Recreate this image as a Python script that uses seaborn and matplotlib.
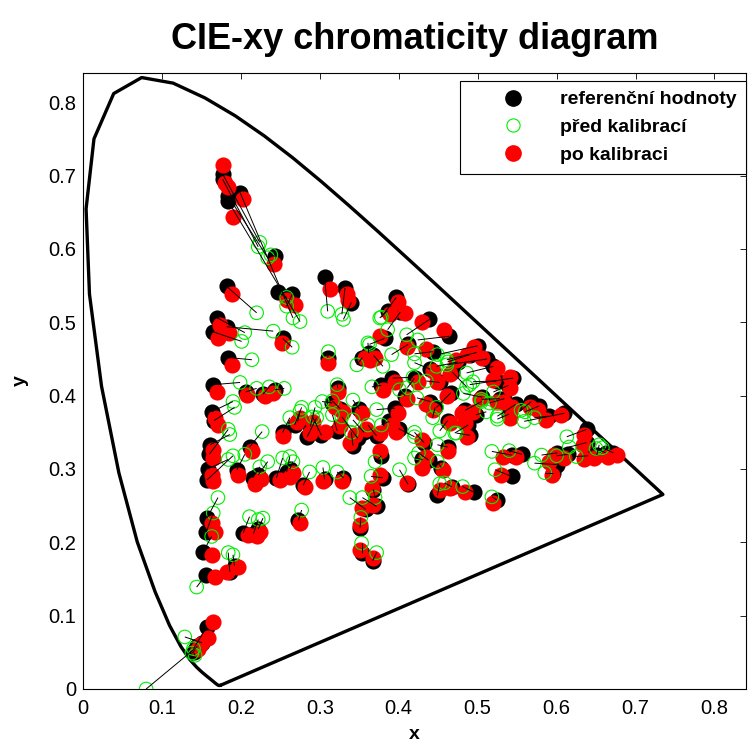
import numpy as np
import pandas as pd
import seaborn as sns
import matplotlib
matplotlib.use("Agg")
import matplotlib.pyplot as plt
from matplotlib.collections import LineCollection
from matplotlib.lines import Line2D

# CIE 1931 spectral locus (380-700 nm, 5 nm)
locus_x = [0.1741, 0.1740, 0.1738, 0.1736, 0.1733, 0.1730, 0.1726, 0.1721, 0.1714, 0.1703,
           0.1689, 0.1669, 0.1644, 0.1611, 0.1566, 0.1510, 0.1440, 0.1355, 0.1241, 0.1096,
           0.0913, 0.0687, 0.0454, 0.0235, 0.0082, 0.0039, 0.0139, 0.0389, 0.0743, 0.1142,
           0.1547, 0.1929, 0.2296, 0.2658, 0.3016, 0.3373, 0.3731, 0.4087, 0.4441, 0.4788,
           0.5125, 0.5448, 0.5752, 0.6029, 0.6270, 0.6482, 0.6658, 0.6801, 0.6915, 0.7006,
           0.7079, 0.7140, 0.7190, 0.7230, 0.7260, 0.7283, 0.7300, 0.7311, 0.7320, 0.7327,
           0.7334, 0.7340, 0.7344, 0.7346, 0.7347]
locus_y = [0.0050, 0.0050, 0.0049, 0.0049, 0.0048, 0.0048, 0.0048, 0.0048, 0.0051, 0.0058,
           0.0069, 0.0086, 0.0109, 0.0138, 0.0177, 0.0227, 0.0297, 0.0399, 0.0578, 0.0868,
           0.1327, 0.2007, 0.2950, 0.4127, 0.5384, 0.6548, 0.7502, 0.8120, 0.8338, 0.8262,
           0.8059, 0.7816, 0.7543, 0.7243, 0.6923, 0.6589, 0.6245, 0.5896, 0.5547, 0.5202,
           0.4866, 0.4544, 0.4242, 0.3965, 0.3725, 0.3514, 0.3340, 0.3197, 0.3083, 0.2993,
           0.2920, 0.2859, 0.2809, 0.2770, 0.2740, 0.2717, 0.2700, 0.2689, 0.2680, 0.2673,
           0.2666, 0.2660, 0.2656, 0.2654, 0.2653]

# reference values (black)
ref_x = [0.177, 0.177, 0.184, 0.199, 0.184, 0.243, 0.247, 0.265, 0.182, 0.170,
         0.182, 0.165, 0.253, 0.184, 0.165, 0.306, 0.332, 0.340, 0.397, 0.402,
         0.439, 0.464, 0.382, 0.412, 0.443, 0.310, 0.354, 0.499, 0.475, 0.520,
         0.545, 0.323, 0.163, 0.166, 0.161, 0.160, 0.158, 0.157, 0.211, 0.195,
         0.215, 0.222, 0.245, 0.258, 0.262, 0.279, 0.253, 0.284, 0.268, 0.157,
         0.156, 0.152, 0.156, 0.186, 0.192, 0.203, 0.216, 0.222, 0.273, 0.157,
         0.151, 0.142, 0.145, 0.140, 0.380, 0.368, 0.358, 0.372, 0.351, 0.353,
         0.367, 0.412, 0.430, 0.454, 0.449, 0.467, 0.496, 0.524, 0.543, 0.543,
         0.462, 0.490, 0.306, 0.610, 0.590, 0.568, 0.578, 0.638, 0.638, 0.640,
         0.651, 0.672, 0.662, 0.614, 0.601, 0.600, 0.596, 0.539, 0.534, 0.540,
         0.556, 0.206, 0.228, 0.243, 0.386, 0.362, 0.368, 0.500, 0.490, 0.512,
         0.524, 0.440, 0.468, 0.452, 0.420, 0.392, 0.378, 0.408, 0.440, 0.466,
         0.446, 0.484, 0.498, 0.488, 0.462, 0.528, 0.548, 0.316, 0.326, 0.350,
         0.395, 0.388, 0.400, 0.372, 0.356, 0.348, 0.322, 0.342, 0.302, 0.288,
         0.272, 0.432, 0.438, 0.378, 0.506, 0.330]
ref_y = [0.702, 0.695, 0.672, 0.677, 0.665, 0.590, 0.541, 0.538, 0.549, 0.506,
         0.494, 0.487, 0.478, 0.452, 0.415, 0.562, 0.547, 0.527, 0.534, 0.514,
         0.504, 0.481, 0.478, 0.470, 0.460, 0.452, 0.452, 0.459, 0.446, 0.440,
         0.424, 0.410, 0.378, 0.366, 0.333, 0.320, 0.300, 0.285, 0.330, 0.299,
         0.288, 0.292, 0.288, 0.296, 0.300, 0.278, 0.350, 0.344, 0.360, 0.233,
         0.214, 0.187, 0.156, 0.160, 0.168, 0.213, 0.212, 0.218, 0.230, 0.085,
         0.063, 0.053, 0.058, 0.050, 0.288, 0.272, 0.245, 0.249, 0.220, 0.186,
         0.175, 0.279, 0.313, 0.302, 0.264, 0.276, 0.268, 0.258, 0.319, 0.290,
         0.330, 0.346, 0.286, 0.376, 0.372, 0.392, 0.386, 0.354, 0.336, 0.318,
         0.319, 0.322, 0.322, 0.320, 0.322, 0.306, 0.295, 0.414, 0.396, 0.375,
         0.320, 0.405, 0.402, 0.408, 0.516, 0.458, 0.455, 0.468, 0.456, 0.450,
         0.420, 0.436, 0.432, 0.418, 0.424, 0.424, 0.414, 0.400, 0.392, 0.404,
         0.384, 0.380, 0.374, 0.360, 0.366, 0.396, 0.388, 0.390, 0.382, 0.382,
         0.383, 0.365, 0.355, 0.345, 0.350, 0.342, 0.352, 0.332, 0.346, 0.358,
         0.365, 0.336, 0.312, 0.318, 0.398, 0.288]

# before calibration (green open circles)
before_x = [0.224, 0.222, 0.234, 0.266, 0.275, 0.238, 0.258, 0.258, 0.220, 0.205,
            0.241, 0.201, 0.265, 0.214, 0.199, 0.310, 0.328, 0.330, 0.378, 0.386,
            0.410, 0.424, 0.363, 0.391, 0.420, 0.311, 0.347, 0.461, 0.448, 0.486,
            0.490, 0.322, 0.190, 0.192, 0.186, 0.184, 0.184, 0.190, 0.227, 0.205,
            0.224, 0.234, 0.253, 0.262, 0.266, 0.287, 0.262, 0.296, 0.277, 0.171,
            0.165, 0.163, 0.144, 0.184, 0.190, 0.211, 0.222, 0.228, 0.277, 0.140,
            0.129, 0.138, 0.080, 0.142, 0.365, 0.370, 0.338, 0.354, 0.352, 0.353,
            0.372, 0.401, 0.420, 0.449, 0.452, 0.458, 0.481, 0.518, 0.518, 0.522,
            0.449, 0.473, 0.304, 0.559, 0.572, 0.555, 0.560, 0.613, 0.616, 0.625,
            0.654, 0.658, 0.650, 0.600, 0.581, 0.572, 0.585, 0.520, 0.515, 0.525,
            0.540, 0.220, 0.236, 0.255, 0.376, 0.361, 0.380, 0.449, 0.462, 0.461,
            0.494, 0.420, 0.486, 0.435, 0.411, 0.418, 0.366, 0.401, 0.423, 0.448,
            0.443, 0.505, 0.511, 0.471, 0.452, 0.505, 0.525, 0.303, 0.316, 0.342,
            0.372, 0.378, 0.420, 0.361, 0.342, 0.328, 0.316, 0.340, 0.291, 0.294,
            0.275, 0.420, 0.425, 0.370, 0.482, 0.322]
before_y = [0.609, 0.603, 0.588, 0.506, 0.501, 0.592, 0.534, 0.522, 0.513, 0.486,
            0.488, 0.474, 0.466, 0.449, 0.418, 0.515, 0.511, 0.504, 0.507, 0.490,
            0.483, 0.476, 0.470, 0.456, 0.457, 0.460, 0.442, 0.449, 0.440, 0.431,
            0.415, 0.415, 0.392, 0.384, 0.347, 0.354, 0.313, 0.318, 0.351, 0.320,
            0.303, 0.310, 0.315, 0.317, 0.310, 0.296, 0.370, 0.370, 0.384, 0.261,
            0.240, 0.208, 0.139, 0.186, 0.183, 0.235, 0.231, 0.233, 0.244, 0.055,
            0.071, 0.049, 0.000, 0.046, 0.290, 0.261, 0.261, 0.261, 0.234, 0.199,
            0.186, 0.299, 0.315, 0.310, 0.280, 0.281, 0.276, 0.262, 0.324, 0.299,
            0.333, 0.349, 0.302, 0.365, 0.370, 0.380, 0.378, 0.344, 0.330, 0.317,
            0.333, 0.329, 0.328, 0.318, 0.319, 0.308, 0.295, 0.405, 0.390, 0.368,
            0.325, 0.410, 0.412, 0.410, 0.506, 0.472, 0.440, 0.456, 0.446, 0.442,
            0.419, 0.445, 0.412, 0.420, 0.411, 0.425, 0.412, 0.408, 0.397, 0.384,
            0.370, 0.392, 0.378, 0.349, 0.352, 0.395, 0.372, 0.392, 0.393, 0.394,
            0.381, 0.360, 0.344, 0.360, 0.367, 0.371, 0.374, 0.350, 0.371, 0.384,
            0.379, 0.350, 0.322, 0.310, 0.403, 0.296]

# after calibration (red)
after_x = [0.177, 0.180, 0.184, 0.203, 0.190, 0.242, 0.259, 0.268, 0.189, 0.173,
           0.185, 0.171, 0.252, 0.189, 0.170, 0.313, 0.334, 0.336, 0.399, 0.408,
           0.430, 0.458, 0.376, 0.410, 0.435, 0.310, 0.363, 0.494, 0.473, 0.524,
           0.541, 0.323, 0.167, 0.171, 0.165, 0.165, 0.163, 0.165, 0.214, 0.196,
           0.218, 0.226, 0.249, 0.262, 0.266, 0.281, 0.253, 0.287, 0.271, 0.163,
           0.167, 0.163, 0.167, 0.182, 0.196, 0.209, 0.220, 0.224, 0.275, 0.165,
           0.158, 0.148, 0.150, 0.146, 0.376, 0.366, 0.354, 0.368, 0.351, 0.351,
           0.367, 0.410, 0.429, 0.456, 0.452, 0.465, 0.484, 0.519, 0.532, 0.530,
           0.462, 0.487, 0.304, 0.606, 0.587, 0.566, 0.576, 0.635, 0.633, 0.635,
           0.648, 0.676, 0.665, 0.610, 0.597, 0.591, 0.594, 0.541, 0.534, 0.541,
           0.549, 0.208, 0.230, 0.241, 0.389, 0.357, 0.370, 0.496, 0.486, 0.506,
           0.519, 0.443, 0.465, 0.448, 0.424, 0.395, 0.380, 0.411, 0.435, 0.461,
           0.443, 0.480, 0.494, 0.484, 0.465, 0.524, 0.544, 0.319, 0.329, 0.353,
           0.399, 0.391, 0.397, 0.376, 0.359, 0.344, 0.325, 0.338, 0.306, 0.291,
           0.275, 0.429, 0.435, 0.376, 0.503, 0.328]
after_y = [0.715, 0.690, 0.685, 0.668, 0.644, 0.579, 0.531, 0.524, 0.538, 0.497,
           0.486, 0.479, 0.472, 0.442, 0.405, 0.545, 0.538, 0.530, 0.528, 0.513,
           0.501, 0.490, 0.481, 0.466, 0.463, 0.445, 0.449, 0.459, 0.449, 0.438,
           0.426, 0.405, 0.370, 0.360, 0.326, 0.315, 0.292, 0.283, 0.324, 0.292,
           0.279, 0.286, 0.285, 0.289, 0.294, 0.276, 0.345, 0.349, 0.364, 0.227,
           0.214, 0.183, 0.153, 0.160, 0.167, 0.210, 0.208, 0.214, 0.227, 0.091,
           0.070, 0.060, 0.062, 0.055, 0.292, 0.274, 0.247, 0.251, 0.224, 0.190,
           0.179, 0.281, 0.302, 0.299, 0.272, 0.274, 0.268, 0.254, 0.317, 0.292,
           0.324, 0.343, 0.283, 0.374, 0.367, 0.385, 0.381, 0.347, 0.333, 0.313,
           0.315, 0.319, 0.317, 0.315, 0.319, 0.310, 0.292, 0.411, 0.392, 0.370,
           0.317, 0.401, 0.399, 0.404, 0.512, 0.452, 0.452, 0.466, 0.456, 0.452,
           0.422, 0.433, 0.429, 0.419, 0.418, 0.419, 0.408, 0.395, 0.388, 0.399,
           0.381, 0.377, 0.378, 0.363, 0.363, 0.392, 0.385, 0.385, 0.378, 0.377,
           0.377, 0.360, 0.351, 0.349, 0.354, 0.347, 0.358, 0.336, 0.351, 0.364,
           0.370, 0.340, 0.317, 0.324, 0.395, 0.284]

tick_vals = [0, 0.1, 0.2, 0.3, 0.4, 0.5, 0.6, 0.7, 0.8]
tick_labels = ["0", "0.1", "0.2", "0.3", "0.4", "0.5", "0.6", "0.7", "0.8"]
legend_labels = ["referenční hodnoty", "před kalibrací", "po kalibraci"]

sns.set_style("white")
plt.rcParams['font.family'] = ['Liberation Sans', 'DejaVu Sans']
plt.rcParams['text.color'] = 'black'
plt.rcParams['axes.labelcolor'] = 'black'
plt.rcParams['xtick.color'] = 'black'
plt.rcParams['ytick.color'] = 'black'

fig = plt.figure(figsize=(7.54, 7.47), dpi=100)
ax = fig.add_axes([83 / 754, 1 - 689 / 747, (746 - 83) / 754, (689 - 73) / 747])

locus_df = pd.DataFrame({"x": locus_x + [locus_x[0]], "y": locus_y + [locus_y[0]]})
sns.lineplot(data=locus_df, x="x", y="y", sort=False, estimator=None,
             color="black", linewidth=2.4, ax=ax, zorder=1)

sns.scatterplot(x=ref_x, y=ref_y, color="black", s=135, linewidth=0, ax=ax, zorder=2)
sns.scatterplot(x=after_x, y=after_y, color="#ff0000", s=135, linewidth=0, ax=ax, zorder=3)
sns.scatterplot(x=before_x, y=before_y, facecolor="none", edgecolor="#00ee00",
                s=95, linewidth=0.8, ax=ax, zorder=4)

segs = np.stack([np.column_stack([before_x, before_y]),
                 np.column_stack([ref_x, ref_y])], axis=1)
ax.add_collection(LineCollection(segs, colors="black", linewidths=0.7, zorder=5))

ax.set_xlim(0, 0.84)
ax.set_ylim(0, 0.84)
ax.set_xticks(tick_vals)
ax.set_xticklabels(tick_labels)
ax.set_yticks(tick_vals)
ax.set_yticklabels(tick_labels)
ax.tick_params(direction="in", top=True, right=True, length=4, width=0.6,
               labelsize=14.5, colors="black")
ax.tick_params(axis="x", pad=7)
ax.tick_params(axis="y", pad=5)
for sp in ax.spines.values():
    sp.set_color("black")
    sp.set_linewidth(0.8)

ax.set_xlabel("x", fontsize=14, fontweight="bold", labelpad=6, color="black")
ax.set_ylabel("y", fontsize=14, fontweight="bold", labelpad=14, color="black")
ax.set_title("CIE-xy chromaticity diagram", fontsize=26, fontweight="bold", pad=17,
             color="black")

handles = [
    Line2D([], [], linestyle="none", marker="o", markersize=11, markerfacecolor="black",
           markeredgecolor="black"),
    Line2D([], [], linestyle="none", marker="o", markersize=9.5, markerfacecolor="none",
           markeredgecolor="#00ee00", markeredgewidth=0.8),
    Line2D([], [], linestyle="none", marker="o", markersize=11, markerfacecolor="#ff0000",
           markeredgecolor="#ff0000"),
]
leg = ax.legend(handles, legend_labels, loc="upper right", bbox_to_anchor=(1.0, 0.987),
                borderaxespad=0, fancybox=False, framealpha=1, edgecolor="black",
                prop={"weight": "bold", "size": 14}, handletextpad=0.2,
                handlelength=4.4, labelspacing=0.52, borderpad=0.5, markerfirst=True)
leg.get_frame().set_linewidth(0.8)
for t in leg.get_texts():
    t.set_color("black")
leg.set_zorder(10)

fig.savefig("out.png", dpi=100)
